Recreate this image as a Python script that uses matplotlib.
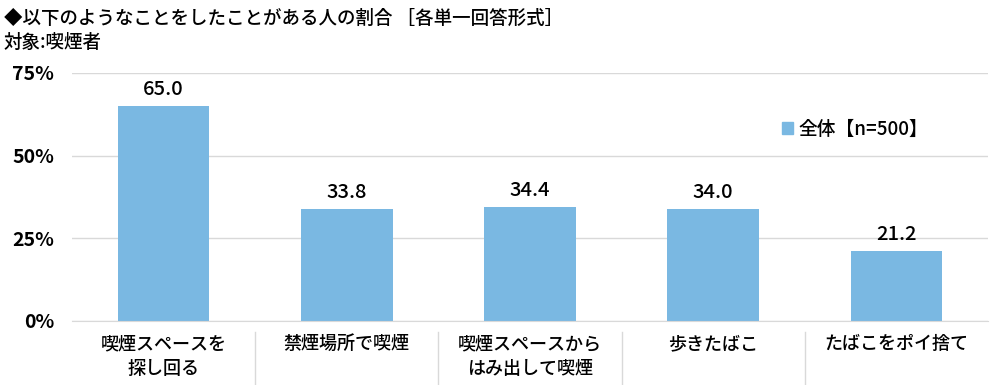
import matplotlib
matplotlib.use("Agg")
import matplotlib.pyplot as plt
from matplotlib.lines import Line2D
from matplotlib.patches import Patch

plt.rcParams['font.family'] = ['Noto Sans CJK JP', 'DejaVu Sans']

categories = ["喫煙スペースを\n探し回る", "禁煙場所で喫煙", "喫煙スペースから\nはみ出して喫煙", "歩きたばこ", "たばこをポイ捨て"]
values = [65.0, 33.8, 34.4, 34.0, 21.2]
yticks = [0, 25, 50, 75]
ytick_labels = ["0%", "25%", "50%", "75%"]
series_name = "全体【n=500】"
title = "◆以下のようなことをしたことがある人の割合 ［各単一回答形式］"
subtitle = "対象:喫煙者"

color = "#7ab8e2"

fig = plt.figure(figsize=(10, 3.85), dpi=100)
ax = fig.add_axes([0.072, 1 - 321/385, 0.916, (321 - 73)/385])

x = list(range(len(categories)))
bars = ax.bar(x, values, width=0.5, color=color, zorder=2)
ax.set_xlim(-0.5, len(categories) - 0.5)
ax.set_ylim(0, 75)
ax.set_yticks(yticks)
ax.set_yticklabels(ytick_labels, fontsize=14, fontweight='bold')
ax.yaxis.grid(True, color="#d9d9d9", linewidth=1, zorder=0)
ax.tick_params(axis='y', length=0, pad=13)
ax.tick_params(axis='x', length=0)
ax.set_xticks([])
for s in ['top', 'right', 'left']:
    ax.spines[s].set_visible(False)
ax.spines['bottom'].set_color("#d9d9d9")

for xi, v in zip(x, values):
    ax.annotate(f"{v:.1f}", (xi, v), xytext=(0, 5), textcoords='offset points',
                ha='center', va='bottom', fontsize=14.5, fontweight='medium')

# category labels and separators
for xi, lab in zip(x, categories):
    ax.text(xi, -0.058, lab, transform=ax.get_xaxis_transform(), ha='center', va='top',
            fontsize=13, fontweight='medium', linespacing=1.5)
for b in range(1, len(categories)):
    ax.add_line(Line2D([b - 0.5, b - 0.5], [-0.045, -0.26], transform=ax.get_xaxis_transform(),
                       color="#d9d9d9", linewidth=1, clip_on=False))

leg = ax.legend([Patch(color=color)], [series_name], loc='upper left',
                bbox_to_anchor=(0.757, 0.88), frameon=False,
                handlelength=0.55, handleheight=0.55, handletextpad=0.3,
                prop={'size': 13.5, 'weight': 'medium'})

fig.text(0.004, 1 - 18/385, title, fontsize=13.3, fontweight='medium', va='center', ha='left')
fig.text(0.004, 1 - 42/385, subtitle, fontsize=13.3, fontweight='medium', va='center', ha='left')

fig.savefig("out.png", dpi=100)
